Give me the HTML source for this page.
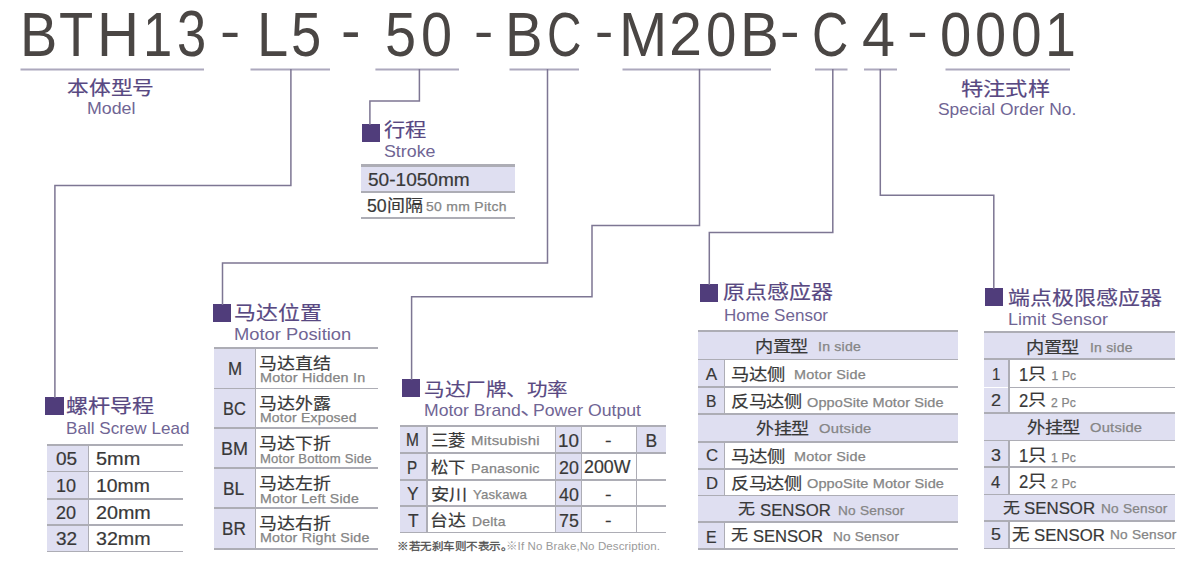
<!DOCTYPE html>
<html lang="zh-CN"><head><meta charset="utf-8"><style>
html,body{margin:0;padding:0;background:#fff;}
body{width:1200px;height:565px;position:relative;overflow:hidden;font-family:"Liberation Sans", sans-serif;}
.a{position:absolute;white-space:nowrap;line-height:1;transform-origin:0 0;}
.r{position:absolute;}
svg{position:absolute;left:0;top:0;}
svg path{fill:none;}
</style></head><body>
<div class="r" style="left:362.00px;top:124.00px;width:18.20px;height:18.00px;background:#503d7b"></div><div class="r" style="left:45.40px;top:397.00px;width:18.20px;height:18.00px;background:#503d7b"></div><div class="r" style="left:213.30px;top:304.00px;width:18.20px;height:18.00px;background:#503d7b"></div><div class="r" style="left:402.00px;top:379.00px;width:18.20px;height:18.00px;background:#503d7b"></div><div class="r" style="left:700.00px;top:284.00px;width:18.20px;height:18.00px;background:#503d7b"></div><div class="r" style="left:984.70px;top:288.00px;width:18.20px;height:18.00px;background:#503d7b"></div><div class="r" style="left:360.50px;top:166.50px;width:154.50px;height:24.00px;background:#dfdff1"></div><div class="r" style="left:360.50px;top:164.40px;width:154.50px;height:2.30px;background:#adadb5"></div><div class="r" style="left:360.50px;top:190.50px;width:154.50px;height:2.00px;background:#adadb5"></div><div class="r" style="left:360.50px;top:217.00px;width:154.50px;height:2.00px;background:#adadb5"></div><div class="r" style="left:47.40px;top:444.50px;width:40.90px;height:107.20px;background:#dfdff1"></div><div class="r" style="left:47.40px;top:443.50px;width:136.00px;height:2.20px;background:#adadb5"></div><div class="r" style="left:47.40px;top:470.60px;width:136.00px;height:1.60px;background:#adadb5"></div><div class="r" style="left:47.40px;top:498.00px;width:136.00px;height:1.60px;background:#adadb5"></div><div class="r" style="left:47.40px;top:524.40px;width:136.00px;height:1.60px;background:#adadb5"></div><div class="r" style="left:47.40px;top:550.70px;width:136.00px;height:1.60px;background:#adadb5"></div><div class="r" style="left:87.60px;top:444.50px;width:1.60px;height:107.20px;background:#adadb5"></div><div class="r" style="left:213.50px;top:348.00px;width:41.70px;height:201.00px;background:#dfdff1"></div><div class="r" style="left:213.50px;top:347.00px;width:164.00px;height:2.20px;background:#adadb5"></div><div class="r" style="left:213.50px;top:387.60px;width:164.00px;height:1.60px;background:#adadb5"></div><div class="r" style="left:213.50px;top:427.20px;width:164.00px;height:1.60px;background:#adadb5"></div><div class="r" style="left:213.50px;top:467.40px;width:164.00px;height:1.60px;background:#adadb5"></div><div class="r" style="left:213.50px;top:507.00px;width:164.00px;height:1.60px;background:#adadb5"></div><div class="r" style="left:213.50px;top:548.00px;width:164.00px;height:1.60px;background:#adadb5"></div><div class="r" style="left:254.60px;top:348.00px;width:1.60px;height:201.00px;background:#adadb5"></div><div class="r" style="left:400.00px;top:426.00px;width:26.70px;height:106.60px;background:#dfdff1"></div><div class="r" style="left:555.40px;top:426.00px;width:25.90px;height:106.60px;background:#dfdff1"></div><div class="r" style="left:636.30px;top:426.00px;width:29.70px;height:27.30px;background:#dfdff1"></div><div class="r" style="left:400.00px;top:425.00px;width:266.00px;height:2.20px;background:#adadb5"></div><div class="r" style="left:400.00px;top:452.30px;width:266.00px;height:1.60px;background:#adadb5"></div><div class="r" style="left:400.00px;top:479.10px;width:266.00px;height:1.60px;background:#adadb5"></div><div class="r" style="left:400.00px;top:505.30px;width:266.00px;height:1.60px;background:#adadb5"></div><div class="r" style="left:400.00px;top:531.60px;width:266.00px;height:1.60px;background:#adadb5"></div><div class="r" style="left:426.00px;top:426.00px;width:1.60px;height:106.60px;background:#adadb5"></div><div class="r" style="left:554.80px;top:426.00px;width:1.60px;height:106.60px;background:#adadb5"></div><div class="r" style="left:580.60px;top:426.00px;width:1.60px;height:106.60px;background:#adadb5"></div><div class="r" style="left:635.60px;top:426.00px;width:1.60px;height:106.60px;background:#adadb5"></div><div class="r" style="left:698.30px;top:330.60px;width:259.50px;height:28.90px;background:#dfdff1"></div><div class="r" style="left:698.30px;top:359.50px;width:25.50px;height:27.50px;background:#dfdff1"></div><div class="r" style="left:723.80px;top:359.50px;width:1.60px;height:27.50px;background:#adadb5"></div><div class="r" style="left:698.30px;top:387.00px;width:25.50px;height:26.80px;background:#dfdff1"></div><div class="r" style="left:723.80px;top:387.00px;width:1.60px;height:26.80px;background:#adadb5"></div><div class="r" style="left:698.30px;top:413.80px;width:259.50px;height:28.20px;background:#dfdff1"></div><div class="r" style="left:698.30px;top:442.00px;width:25.50px;height:26.80px;background:#dfdff1"></div><div class="r" style="left:723.80px;top:442.00px;width:1.60px;height:26.80px;background:#adadb5"></div><div class="r" style="left:698.30px;top:468.80px;width:25.50px;height:26.80px;background:#dfdff1"></div><div class="r" style="left:723.80px;top:468.80px;width:1.60px;height:26.80px;background:#adadb5"></div><div class="r" style="left:698.30px;top:495.60px;width:259.50px;height:26.70px;background:#dfdff1"></div><div class="r" style="left:698.30px;top:522.30px;width:25.50px;height:26.80px;background:#dfdff1"></div><div class="r" style="left:723.80px;top:522.30px;width:1.60px;height:26.80px;background:#adadb5"></div><div class="r" style="left:698.30px;top:329.60px;width:259.50px;height:2.20px;background:#adadb5"></div><div class="r" style="left:698.30px;top:358.50px;width:259.50px;height:1.80px;background:#adadb5"></div><div class="r" style="left:698.30px;top:386.00px;width:259.50px;height:1.80px;background:#adadb5"></div><div class="r" style="left:698.30px;top:412.80px;width:259.50px;height:1.80px;background:#adadb5"></div><div class="r" style="left:698.30px;top:441.00px;width:259.50px;height:1.80px;background:#adadb5"></div><div class="r" style="left:698.30px;top:467.80px;width:259.50px;height:1.80px;background:#adadb5"></div><div class="r" style="left:698.30px;top:494.60px;width:259.50px;height:1.80px;background:#adadb5"></div><div class="r" style="left:698.30px;top:521.30px;width:259.50px;height:1.80px;background:#adadb5"></div><div class="r" style="left:698.30px;top:548.10px;width:259.50px;height:1.80px;background:#adadb5"></div><div class="r" style="left:983.60px;top:331.60px;width:191.60px;height:27.70px;background:#dfdff1"></div><div class="r" style="left:983.60px;top:359.30px;width:24.80px;height:28.20px;background:#dfdff1"></div><div class="r" style="left:1008.40px;top:359.30px;width:1.60px;height:28.20px;background:#adadb5"></div><div class="r" style="left:983.60px;top:387.50px;width:24.80px;height:25.30px;background:#dfdff1"></div><div class="r" style="left:1008.40px;top:387.50px;width:1.60px;height:25.30px;background:#adadb5"></div><div class="r" style="left:983.60px;top:412.80px;width:191.60px;height:27.70px;background:#dfdff1"></div><div class="r" style="left:983.60px;top:440.50px;width:24.80px;height:26.70px;background:#dfdff1"></div><div class="r" style="left:1008.40px;top:440.50px;width:1.60px;height:26.70px;background:#adadb5"></div><div class="r" style="left:983.60px;top:467.20px;width:24.80px;height:27.30px;background:#dfdff1"></div><div class="r" style="left:1008.40px;top:467.20px;width:1.60px;height:27.30px;background:#adadb5"></div><div class="r" style="left:983.60px;top:494.50px;width:191.60px;height:26.30px;background:#dfdff1"></div><div class="r" style="left:983.60px;top:520.80px;width:24.80px;height:27.70px;background:#dfdff1"></div><div class="r" style="left:1008.40px;top:520.80px;width:1.60px;height:27.70px;background:#adadb5"></div><div class="r" style="left:983.60px;top:330.60px;width:191.60px;height:2.20px;background:#adadb5"></div><div class="r" style="left:983.60px;top:358.30px;width:191.60px;height:1.80px;background:#adadb5"></div><div class="r" style="left:1008.40px;top:386.50px;width:166.80px;height:1.80px;background:#adadb5"></div><div class="r" style="left:983.60px;top:411.80px;width:191.60px;height:1.80px;background:#adadb5"></div><div class="r" style="left:983.60px;top:439.50px;width:191.60px;height:1.80px;background:#adadb5"></div><div class="r" style="left:983.60px;top:466.20px;width:191.60px;height:1.80px;background:#adadb5"></div><div class="r" style="left:983.60px;top:493.50px;width:191.60px;height:1.80px;background:#adadb5"></div><div class="r" style="left:983.60px;top:519.80px;width:191.60px;height:1.80px;background:#adadb5"></div><div class="r" style="left:983.60px;top:547.50px;width:191.60px;height:1.80px;background:#adadb5"></div>
<svg width="1200" height="565" viewBox="0 0 1200 565"><path d="M20.5 69.5 H204" stroke="#aca8bd" stroke-width="2.2"/><path d="M250.5 69.5 H330" stroke="#aca8bd" stroke-width="2.2"/><path d="M375.4 69.5 H459" stroke="#aca8bd" stroke-width="2.2"/><path d="M509.5 69.5 H579" stroke="#aca8bd" stroke-width="2.2"/><path d="M622.5 69.5 H771" stroke="#aca8bd" stroke-width="2.2"/><path d="M815 69.5 H847.5" stroke="#aca8bd" stroke-width="2.2"/><path d="M864 69.5 H897" stroke="#aca8bd" stroke-width="2.2"/><path d="M945.5 69.5 H1070" stroke="#aca8bd" stroke-width="2.2"/><path d="M290.9 69 V185.6 H54.9 V398" stroke="#7d7693" stroke-width="1.5"/><path d="M419.4 69 V100.9 H369.9 V125" stroke="#7d7693" stroke-width="1.5"/><path d="M547.5 69 V262.9 H222.5 V305" stroke="#7d7693" stroke-width="1.5"/><path d="M699.5 69 V225.5 H592 V296.7 H411.6 V380" stroke="#7d7693" stroke-width="1.5"/><path d="M832.8 69 V232.5 H709.3 V285" stroke="#7d7693" stroke-width="1.5"/><path d="M880.3 69 V195.3 H993.8 V289" stroke="#7d7693" stroke-width="1.5"/></svg>
<div class="a" style="left:20.02px;top:3.12px;font-size:62px;color:#4a4644;font-weight:400;letter-spacing:0px;transform:scale(0.9015,1.0155);">B</div>
<div class="a" style="left:58.96px;top:3.12px;font-size:62px;color:#4a4644;font-weight:400;letter-spacing:0px;transform:scale(0.9029,1.0155);">T</div>
<div class="a" style="left:96.75px;top:3.27px;font-size:62px;color:#4a4644;font-weight:400;letter-spacing:0px;transform:scale(0.9382,1.0145);">H</div>
<div class="a" style="left:143.05px;top:3.12px;font-size:62px;color:#4a4644;font-weight:400;letter-spacing:0px;transform:scale(0.8481,1.0155);">1</div>
<div class="a" style="left:177.49px;top:1.93px;font-size:62px;color:#4a4644;font-weight:400;letter-spacing:0px;transform:scale(0.8467,1.0381);">3</div>
<div class="a" style="left:257.00px;top:3.27px;font-size:62px;color:#4a4644;font-weight:400;letter-spacing:0px;transform:scale(0.9042,1.0145);">L</div>
<div class="a" style="left:291.34px;top:3.81px;font-size:62px;color:#4a4644;font-weight:400;letter-spacing:0px;transform:scale(0.8767,1.0058);">5</div>
<div class="a" style="left:385.24px;top:3.28px;font-size:62px;color:#4a4644;font-weight:400;letter-spacing:0px;transform:scale(0.9003,1.0198);">5</div>
<div class="a" style="left:421.47px;top:3.28px;font-size:62px;color:#4a4644;font-weight:400;letter-spacing:0px;transform:scale(0.9016,1.0198);">0</div>
<div class="a" style="left:504.88px;top:3.12px;font-size:62px;color:#4a4644;font-weight:400;letter-spacing:0px;transform:scale(0.9091,1.0155);">B</div>
<div class="a" style="left:547.25px;top:3.81px;font-size:62px;color:#4a4644;font-weight:400;letter-spacing:0px;transform:scale(0.7692,1.0058);">C</div>
<div class="a" style="left:619.30px;top:3.27px;font-size:62px;color:#4a4644;font-weight:400;letter-spacing:0px;transform:scale(0.9343,1.0145);">M</div>
<div class="a" style="left:669.13px;top:3.71px;font-size:62px;color:#4a4644;font-weight:400;letter-spacing:0px;transform:scale(0.9577,0.9874);">2</div>
<div class="a" style="left:706.24px;top:3.81px;font-size:62px;color:#4a4644;font-weight:400;letter-spacing:0px;transform:scale(0.8801,1.0058);">0</div>
<div class="a" style="left:739.76px;top:3.27px;font-size:62px;color:#4a4644;font-weight:400;letter-spacing:0px;transform:scale(0.9399,1.0145);">B</div>
<div class="a" style="left:811.56px;top:3.81px;font-size:62px;color:#4a4644;font-weight:400;letter-spacing:0px;transform:scale(0.8103,1.0058);">C</div>
<div class="a" style="left:861.67px;top:3.12px;font-size:62px;color:#4a4644;font-weight:400;letter-spacing:0px;transform:scale(0.9581,1.0155);">4</div>
<div class="a" style="left:940.04px;top:3.81px;font-size:62px;color:#4a4644;font-weight:400;letter-spacing:0px;transform:scale(0.9071,1.0058);">0</div>
<div class="a" style="left:975.16px;top:3.81px;font-size:62px;color:#4a4644;font-weight:400;letter-spacing:0px;transform:scale(0.9037,1.0058);">0</div>
<div class="a" style="left:1010.78px;top:3.81px;font-size:62px;color:#4a4644;font-weight:400;letter-spacing:0px;transform:scale(0.8867,1.0058);">0</div>
<div class="a" style="left:1045.04px;top:3.12px;font-size:62px;color:#4a4644;font-weight:400;letter-spacing:0px;transform:scale(0.8963,1.0155);">1</div>
<div class="a" style="left:220.46px;top:3.13px;font-size:62px;color:#4a4644;font-weight:400;letter-spacing:0px;transform:scale(0.9800,0.8800);">-</div>
<div class="a" style="left:340.74px;top:-0.25px;font-size:62px;color:#4a4644;font-weight:400;letter-spacing:0px;transform:scale(0.9467,0.9680);">-</div>
<div class="a" style="left:474.20px;top:3.13px;font-size:62px;color:#4a4644;font-weight:400;letter-spacing:0px;transform:scale(0.9333,0.8800);">-</div>
<div class="a" style="left:594.67px;top:3.13px;font-size:62px;color:#4a4644;font-weight:400;letter-spacing:0px;transform:scale(0.8812,0.8800);">-</div>
<div class="a" style="left:780.13px;top:3.13px;font-size:62px;color:#4a4644;font-weight:400;letter-spacing:0px;transform:scale(0.9467,0.8800);">-</div>
<div class="a" style="left:906.76px;top:3.13px;font-size:62px;color:#4a4644;font-weight:400;letter-spacing:0px;transform:scale(1.0133,0.8800);">-</div>
<div class="a" style="left:66.96px;top:78.22px;font-size:21px;color:#584882;font-weight:400;letter-spacing:0px;-webkit-text-stroke:0.2px #584882;transform:scale(1.0366,0.9226);">本体型号</div>
<div class="a" style="left:86.95px;top:99.86px;font-size:17px;color:#706594;font-weight:400;letter-spacing:0px;transform:scale(1.0455,1.0000);">Model</div>
<div class="a" style="left:960.94px;top:78.67px;font-size:21px;color:#584882;font-weight:400;letter-spacing:0px;-webkit-text-stroke:0.2px #584882;transform:scale(1.0573,0.9410);">特注式样</div>
<div class="a" style="left:937.98px;top:100.61px;font-size:17px;color:#706594;font-weight:400;letter-spacing:0px;transform:scale(1.0233,1.0000);">Special Order No.</div>
<div class="a" style="left:384.22px;top:120.81px;font-size:21px;color:#584882;font-weight:400;letter-spacing:0px;-webkit-text-stroke:0.2px #584882;transform:scale(1.0128,0.9014);">行程</div>
<div class="a" style="left:383.95px;top:142.73px;font-size:17px;color:#706594;font-weight:400;letter-spacing:0px;transform:scale(1.0469,1.0000);">Stroke</div>
<div class="a" style="left:65.97px;top:396.00px;font-size:21px;color:#584882;font-weight:400;letter-spacing:0px;-webkit-text-stroke:0.2px #584882;transform:scale(1.0515,0.9359);">螺杆导程</div>
<div class="a" style="left:66.09px;top:420.21px;font-size:17px;color:#706594;font-weight:400;letter-spacing:0px;transform:scale(1.0050,1.0000);">Ball Screw Lead</div>
<div class="a" style="left:233.97px;top:303.09px;font-size:21px;color:#584882;font-weight:400;letter-spacing:0px;-webkit-text-stroke:0.2px #584882;transform:scale(1.0440,0.9291);">马达位置</div>
<div class="a" style="left:234.10px;top:325.98px;font-size:17px;color:#706594;font-weight:400;letter-spacing:0px;transform:scale(1.0793,1.0000);">Motor Position</div>
<div class="a" style="left:423.82px;top:379.69px;font-size:21px;color:#584882;font-weight:400;letter-spacing:0px;-webkit-text-stroke:0.2px #584882;transform:scale(0.9772,0.8697);">马达厂牌、功率</div>
<div class="a" style="left:424.35px;top:401.76px;font-size:17px;color:#706594;font-weight:400;letter-spacing:0px;transform:scale(1.0341,1.0000);">Motor Brand</div>
<div class="a" style="left:519.97px;top:399.00px;font-size:17px;color:#706594;font-weight:400;letter-spacing:0px;transform:scale(1.4017,1.1281);">、</div>
<div class="a" style="left:532.55px;top:401.96px;font-size:17px;color:#706594;font-weight:400;letter-spacing:0px;transform:scale(1.0388,1.0000);">Power Output</div>
<div class="a" style="left:723.37px;top:281.95px;font-size:21px;color:#584882;font-weight:400;letter-spacing:0px;-webkit-text-stroke:0.2px #584882;transform:scale(1.0437,0.9289);">原点感应器</div>
<div class="a" style="left:723.80px;top:307.28px;font-size:17px;color:#706594;font-weight:400;letter-spacing:0px;transform:scale(1.0010,1.0000);">Home Sensor</div>
<div class="a" style="left:1007.95px;top:288.47px;font-size:21px;color:#584882;font-weight:400;letter-spacing:0px;-webkit-text-stroke:0.2px #584882;transform:scale(1.0455,0.9305);">端点极限感应器</div>
<div class="a" style="left:1007.71px;top:310.81px;font-size:17px;color:#706594;font-weight:400;letter-spacing:0px;transform:scale(1.0570,1.0000);">Limit Sensor</div>
<div class="a" style="left:368.16px;top:170.76px;font-size:18px;color:#383838;font-weight:400;letter-spacing:0px;-webkit-text-stroke:0.2px #383838;transform:scale(1.0590,1.0000);">50-1050mm</div>
<div class="a" style="left:367.34px;top:197.04px;font-size:18.5px;color:#383838;font-weight:400;letter-spacing:0px;-webkit-text-stroke:0.2px #383838;transform:scale(0.9579,1.0000);">50</div>
<div class="a" style="left:387.21px;top:197.50px;font-size:18px;color:#383838;font-weight:400;letter-spacing:0px;-webkit-text-stroke:0.2px #383838;transform:scale(0.9970,0.8873);">间隔</div>
<div class="a" style="left:425.97px;top:199.97px;font-size:13.5px;color:#858585;font-weight:400;letter-spacing:0.3px;-webkit-text-stroke:0.25px #858585;transform:scale(1.0317,1.0000);">50 mm Pitch</div>
<div class="a" style="left:55.94px;top:449.66px;font-size:18px;color:#383838;font-weight:400;letter-spacing:0px;-webkit-text-stroke:0.2px #383838;transform:scale(1.0556,1.0000);">05</div>
<div class="a" style="left:96.32px;top:449.66px;font-size:18px;color:#383838;font-weight:400;letter-spacing:0px;-webkit-text-stroke:0.2px #383838;transform:scale(1.1053,1.0000);">5mm</div>
<div class="a" style="left:56.00px;top:477.16px;font-size:18px;color:#383838;font-weight:400;letter-spacing:0px;-webkit-text-stroke:0.2px #383838;">10</div>
<div class="a" style="left:96.43px;top:477.36px;font-size:18px;color:#383838;font-weight:400;letter-spacing:0px;-webkit-text-stroke:0.2px #383838;transform:scale(1.0772,1.0000);">10mm</div>
<div class="a" style="left:56.00px;top:503.96px;font-size:18px;color:#383838;font-weight:400;letter-spacing:0px;-webkit-text-stroke:0.2px #383838;">20</div>
<div class="a" style="left:96.32px;top:503.96px;font-size:18px;color:#383838;font-weight:400;letter-spacing:0px;-webkit-text-stroke:0.2px #383838;transform:scale(1.0958,1.0000);">20mm</div>
<div class="a" style="left:55.94px;top:530.11px;font-size:18px;color:#383838;font-weight:400;letter-spacing:0px;-webkit-text-stroke:0.2px #383838;transform:scale(1.0556,1.0000);">32</div>
<div class="a" style="left:95.92px;top:530.01px;font-size:18px;color:#383838;font-weight:400;letter-spacing:0px;-webkit-text-stroke:0.2px #383838;transform:scale(1.0918,1.0000);">32mm</div>
<div class="a" style="left:228.03px;top:360.94px;font-size:17.5px;color:#383838;font-weight:400;letter-spacing:0px;-webkit-text-stroke:0.2px #383838;transform:scale(0.9667,1.0000);">M</div>
<div class="a" style="left:259.15px;top:356.10px;font-size:17px;color:#383838;font-weight:400;letter-spacing:0px;-webkit-text-stroke:0.2px #383838;transform:scale(1.0545,0.9385);">马达直结</div>
<div class="a" style="left:259.69px;top:370.95px;font-size:13px;color:#858585;font-weight:400;letter-spacing:0.2px;-webkit-text-stroke:0.25px #858585;transform:scale(1.1043,1.0000);">Motor Hidden In</div>
<div class="a" style="left:223.06px;top:401.49px;font-size:17.5px;color:#383838;font-weight:400;letter-spacing:0px;-webkit-text-stroke:0.2px #383838;transform:scale(0.9405,1.0000);">BC</div>
<div class="a" style="left:259.15px;top:396.33px;font-size:17px;color:#383838;font-weight:400;letter-spacing:0px;-webkit-text-stroke:0.2px #383838;transform:scale(1.0545,0.9385);">马达外露</div>
<div class="a" style="left:259.52px;top:410.70px;font-size:13px;color:#858585;font-weight:400;letter-spacing:0.2px;-webkit-text-stroke:0.25px #858585;transform:scale(1.0751,1.0000);">Motor Exposed</div>
<div class="a" style="left:221.14px;top:441.29px;font-size:17.5px;color:#383838;font-weight:400;letter-spacing:0px;-webkit-text-stroke:0.2px #383838;transform:scale(1.0285,1.0000);">BM</div>
<div class="a" style="left:259.35px;top:435.63px;font-size:17px;color:#383838;font-weight:400;letter-spacing:0px;-webkit-text-stroke:0.2px #383838;transform:scale(1.0570,0.9407);">马达下折</div>
<div class="a" style="left:259.79px;top:452.00px;font-size:13px;color:#858585;font-weight:400;letter-spacing:0.2px;-webkit-text-stroke:0.25px #858585;transform:scale(1.0064,1.0000);">Motor Bottom Side</div>
<div class="a" style="left:222.90px;top:480.89px;font-size:17.5px;color:#383838;font-weight:400;letter-spacing:0px;-webkit-text-stroke:0.2px #383838;transform:scale(0.9925,1.0000);">BL</div>
<div class="a" style="left:259.35px;top:476.43px;font-size:17px;color:#383838;font-weight:400;letter-spacing:0px;-webkit-text-stroke:0.2px #383838;transform:scale(1.0570,0.9407);">马达左折</div>
<div class="a" style="left:259.71px;top:492.40px;font-size:13px;color:#858585;font-weight:400;letter-spacing:0.2px;-webkit-text-stroke:0.25px #858585;transform:scale(1.0854,1.0000);">Motor Left Side</div>
<div class="a" style="left:222.23px;top:520.94px;font-size:17.5px;color:#383838;font-weight:400;letter-spacing:0px;-webkit-text-stroke:0.2px #383838;transform:scale(0.9818,1.0000);">BR</div>
<div class="a" style="left:259.35px;top:515.78px;font-size:17px;color:#383838;font-weight:400;letter-spacing:0px;-webkit-text-stroke:0.2px #383838;transform:scale(1.0570,0.9407);">马达右折</div>
<div class="a" style="left:259.59px;top:531.20px;font-size:13px;color:#858585;font-weight:400;letter-spacing:0.2px;-webkit-text-stroke:0.25px #858585;transform:scale(1.0959,1.0000);">Motor Right Side</div>
<div class="a" style="left:405.83px;top:432.39px;font-size:17.5px;color:#383838;font-weight:400;letter-spacing:0px;-webkit-text-stroke:0.2px #383838;transform:scale(0.8867,1.0000);">M</div>
<div class="a" style="left:431.28px;top:433.30px;font-size:17px;color:#383838;font-weight:400;letter-spacing:0px;-webkit-text-stroke:0.2px #383838;transform:scale(1.0192,0.9071);">三菱</div>
<div class="a" style="left:471.21px;top:434.00px;font-size:13px;color:#858585;font-weight:400;letter-spacing:0.2px;-webkit-text-stroke:0.25px #858585;transform:scale(1.1518,1.0000);">Mitsubishi</div>
<div class="a" style="left:557.89px;top:432.84px;font-size:17.5px;color:#383838;font-weight:400;letter-spacing:0px;-webkit-text-stroke:0.2px #383838;transform:scale(1.0765,1.0000);">10</div>
<div class="a" style="left:605.11px;top:433.11px;font-size:16px;color:#383838;font-weight:400;letter-spacing:0px;-webkit-text-stroke:0.2px #383838;transform:scale(1.2250,1.0000);">-</div>
<div class="a" style="left:407.38px;top:459.89px;font-size:17.5px;color:#383838;font-weight:400;letter-spacing:0px;-webkit-text-stroke:0.2px #383838;transform:scale(0.8703,1.0000);">P</div>
<div class="a" style="left:431.28px;top:460.18px;font-size:17px;color:#383838;font-weight:400;letter-spacing:0px;-webkit-text-stroke:0.2px #383838;transform:scale(1.0192,0.9071);">松下</div>
<div class="a" style="left:471.28px;top:461.90px;font-size:13px;color:#858585;font-weight:400;letter-spacing:0.2px;-webkit-text-stroke:0.25px #858585;transform:scale(1.0984,1.0000);">Panasonic</div>
<div class="a" style="left:558.99px;top:460.44px;font-size:17.5px;color:#383838;font-weight:400;letter-spacing:0px;-webkit-text-stroke:0.2px #383838;transform:scale(1.0167,1.0000);">20</div>
<div class="a" style="left:584.49px;top:459.19px;font-size:17.5px;color:#383838;font-weight:400;letter-spacing:0px;-webkit-text-stroke:0.2px #383838;transform:scale(1.0179,1.0000);">200W</div>
<div class="a" style="left:406.81px;top:486.29px;font-size:17.5px;color:#383838;font-weight:400;letter-spacing:0px;-webkit-text-stroke:0.2px #383838;transform:scale(0.9900,1.0000);">Y</div>
<div class="a" style="left:431.13px;top:487.13px;font-size:17px;color:#383838;font-weight:400;letter-spacing:0px;-webkit-text-stroke:0.2px #383838;transform:scale(1.0742,0.9560);">安川</div>
<div class="a" style="left:472.70px;top:488.30px;font-size:13px;color:#858585;font-weight:400;letter-spacing:0.2px;-webkit-text-stroke:0.25px #858585;transform:scale(1.0152,1.0000);">Yaskawa</div>
<div class="a" style="left:558.99px;top:487.04px;font-size:17.5px;color:#383838;font-weight:400;letter-spacing:0px;-webkit-text-stroke:0.2px #383838;transform:scale(1.0167,1.0000);">40</div>
<div class="a" style="left:605.11px;top:487.31px;font-size:16px;color:#383838;font-weight:400;letter-spacing:0px;-webkit-text-stroke:0.2px #383838;transform:scale(1.2250,1.0000);">-</div>
<div class="a" style="left:407.60px;top:512.89px;font-size:17.5px;color:#383838;font-weight:400;letter-spacing:0px;-webkit-text-stroke:0.2px #383838;transform:scale(0.9934,1.0000);">T</div>
<div class="a" style="left:430.20px;top:512.98px;font-size:17px;color:#383838;font-weight:400;letter-spacing:0px;-webkit-text-stroke:0.2px #383838;transform:scale(1.0521,0.9363);">台达</div>
<div class="a" style="left:471.62px;top:514.90px;font-size:13px;color:#858585;font-weight:400;letter-spacing:0.2px;-webkit-text-stroke:0.25px #858585;transform:scale(1.0741,1.0000);">Delta</div>
<div class="a" style="left:558.99px;top:513.44px;font-size:17.5px;color:#383838;font-weight:400;letter-spacing:0px;-webkit-text-stroke:0.2px #383838;transform:scale(1.0167,1.0000);">75</div>
<div class="a" style="left:605.11px;top:512.71px;font-size:16px;color:#383838;font-weight:400;letter-spacing:0px;-webkit-text-stroke:0.2px #383838;transform:scale(1.2250,1.0000);">-</div>
<div class="a" style="left:645.40px;top:432.84px;font-size:17.5px;color:#383838;font-weight:400;letter-spacing:0px;-webkit-text-stroke:0.2px #383838;">B</div>
<div class="a" style="left:397.42px;top:542.22px;font-size:11px;color:#505050;font-weight:400;letter-spacing:0px;-webkit-text-stroke:0.3px #505050;transform:scale(1.0492,0.9338);">※若无刹车则不表示。</div>
<div class="a" style="left:505.69px;top:541.39px;font-size:11px;color:#9a9a9a;font-weight:400;letter-spacing:0.1px;transform:scale(1.0472,1.0000);">※If No Brake,No Description.</div>
<div class="a" style="left:754.73px;top:338.95px;font-size:17.5px;color:#383838;font-weight:400;letter-spacing:0px;-webkit-text-stroke:0.2px #383838;transform:scale(1.0408,0.9263);">内置型</div>
<div class="a" style="left:817.72px;top:340.25px;font-size:13px;color:#858585;font-weight:400;letter-spacing:0.2px;-webkit-text-stroke:0.25px #858585;transform:scale(1.0844,1.0000);">In side</div>
<div class="a" style="left:756.38px;top:421.14px;font-size:17.5px;color:#383838;font-weight:400;letter-spacing:0px;-webkit-text-stroke:0.2px #383838;transform:scale(1.0300,0.9167);">外挂型</div>
<div class="a" style="left:819.36px;top:421.90px;font-size:13px;color:#858585;font-weight:400;letter-spacing:0.2px;-webkit-text-stroke:0.25px #858585;transform:scale(1.1378,1.0000);">Outside</div>
<div class="a" style="left:738.00px;top:501.75px;font-size:17px;color:#383838;font-weight:400;letter-spacing:0px;-webkit-text-stroke:0.2px #383838;transform:scale(1.0000,0.8900);">无</div>
<div class="a" style="left:760.12px;top:502.31px;font-size:17px;color:#383838;font-weight:400;letter-spacing:0px;-webkit-text-stroke:0.2px #383838;transform:scale(0.9857,1.0000);">SENSOR</div>
<div class="a" style="left:837.98px;top:505.32px;font-size:12.5px;color:#858585;font-weight:400;letter-spacing:0.2px;-webkit-text-stroke:0.25px #858585;transform:scale(1.0934,1.0000);">No Sensor</div>
<div class="a" style="left:705.80px;top:366.06px;font-size:17px;color:#383838;font-weight:400;letter-spacing:0px;-webkit-text-stroke:0.2px #383838;">A</div>
<div class="a" style="left:706.08px;top:393.06px;font-size:17px;color:#383838;font-weight:400;letter-spacing:0px;-webkit-text-stroke:0.2px #383838;transform:scale(0.9200,1.0000);">B</div>
<div class="a" style="left:706.01px;top:447.06px;font-size:17px;color:#383838;font-weight:400;letter-spacing:0px;-webkit-text-stroke:0.2px #383838;transform:scale(0.9900,1.0000);">C</div>
<div class="a" style="left:706.02px;top:475.11px;font-size:17px;color:#383838;font-weight:400;letter-spacing:0px;-webkit-text-stroke:0.2px #383838;transform:scale(0.9801,1.0000);">D</div>
<div class="a" style="left:705.91px;top:528.66px;font-size:17px;color:#383838;font-weight:400;letter-spacing:0px;-webkit-text-stroke:0.2px #383838;transform:scale(0.9333,1.0000);">E</div>
<div class="a" style="left:730.87px;top:366.76px;font-size:17.5px;color:#383838;font-weight:400;letter-spacing:0px;-webkit-text-stroke:0.2px #383838;transform:scale(1.0490,0.9336);">马达侧</div>
<div class="a" style="left:793.89px;top:368.20px;font-size:13px;color:#858585;font-weight:400;letter-spacing:0.2px;-webkit-text-stroke:0.25px #858585;transform:scale(1.1080,1.0000);">Motor Side</div>
<div class="a" style="left:730.87px;top:448.70px;font-size:17.5px;color:#383838;font-weight:400;letter-spacing:0px;-webkit-text-stroke:0.2px #383838;transform:scale(1.0490,0.9336);">马达侧</div>
<div class="a" style="left:793.89px;top:450.10px;font-size:13px;color:#858585;font-weight:400;letter-spacing:0.2px;-webkit-text-stroke:0.25px #858585;transform:scale(1.1080,1.0000);">Motor Side</div>
<div class="a" style="left:730.88px;top:394.41px;font-size:17.5px;color:#383838;font-weight:400;letter-spacing:0px;-webkit-text-stroke:0.2px #383838;transform:scale(1.0395,0.9252);">反马达侧</div>
<div class="a" style="left:806.71px;top:395.75px;font-size:13px;color:#858585;font-weight:400;letter-spacing:0.1px;-webkit-text-stroke:0.25px #858585;transform:scale(1.1149,1.0000);">OppoSite Motor Side</div>
<div class="a" style="left:730.88px;top:475.83px;font-size:17.5px;color:#383838;font-weight:400;letter-spacing:0px;-webkit-text-stroke:0.2px #383838;transform:scale(1.0395,0.9252);">反马达侧</div>
<div class="a" style="left:807.31px;top:477.05px;font-size:13px;color:#858585;font-weight:400;letter-spacing:0.1px;-webkit-text-stroke:0.25px #858585;transform:scale(1.1182,1.0000);">OppoSite Motor Side</div>
<div class="a" style="left:731.40px;top:527.72px;font-size:17px;color:#383838;font-weight:400;letter-spacing:0px;-webkit-text-stroke:0.2px #383838;transform:scale(1.0000,0.8900);">无</div>
<div class="a" style="left:753.03px;top:527.96px;font-size:17px;color:#383838;font-weight:400;letter-spacing:0px;-webkit-text-stroke:0.2px #383838;transform:scale(0.9743,1.0000);">SENSOR</div>
<div class="a" style="left:832.96px;top:531.27px;font-size:12.5px;color:#858585;font-weight:400;letter-spacing:0.2px;-webkit-text-stroke:0.25px #858585;transform:scale(1.0867,1.0000);">No Sensor</div>
<div class="a" style="left:1026.14px;top:339.94px;font-size:17.5px;color:#383838;font-weight:400;letter-spacing:0px;-webkit-text-stroke:0.2px #383838;transform:scale(1.0409,0.9264);">内置型</div>
<div class="a" style="left:1089.90px;top:340.80px;font-size:13px;color:#858585;font-weight:400;letter-spacing:0.2px;-webkit-text-stroke:0.25px #858585;transform:scale(1.0740,1.0000);">In side</div>
<div class="a" style="left:1027.17px;top:420.00px;font-size:17.5px;color:#383838;font-weight:400;letter-spacing:0px;-webkit-text-stroke:0.2px #383838;transform:scale(1.0440,0.9292);">外挂型</div>
<div class="a" style="left:1089.87px;top:421.00px;font-size:13px;color:#858585;font-weight:400;letter-spacing:0.2px;-webkit-text-stroke:0.25px #858585;transform:scale(1.1311,1.0000);">Outside</div>
<div class="a" style="left:1003.23px;top:500.83px;font-size:17px;color:#383838;font-weight:400;letter-spacing:0px;-webkit-text-stroke:0.2px #383838;transform:scale(0.9946,0.8852);">无</div>
<div class="a" style="left:1024.01px;top:499.98px;font-size:17px;color:#383838;font-weight:400;letter-spacing:0px;-webkit-text-stroke:0.2px #383838;transform:scale(0.9908,1.0000);">SENSOR</div>
<div class="a" style="left:1100.68px;top:502.92px;font-size:12.5px;color:#858585;font-weight:400;letter-spacing:0.2px;-webkit-text-stroke:0.25px #858585;transform:scale(1.0942,1.0000);">No Sensor</div>
<div class="a" style="left:992.30px;top:366.21px;font-size:17px;color:#383838;font-weight:400;letter-spacing:0px;-webkit-text-stroke:0.2px #383838;transform:scale(0.8875,1.0000);">1</div>
<div class="a" style="left:990.73px;top:392.21px;font-size:17px;color:#383838;font-weight:400;letter-spacing:0px;-webkit-text-stroke:0.2px #383838;transform:scale(1.0662,1.0000);">2</div>
<div class="a" style="left:990.85px;top:447.01px;font-size:17px;color:#383838;font-weight:400;letter-spacing:0px;-webkit-text-stroke:0.2px #383838;transform:scale(1.0506,1.0000);">3</div>
<div class="a" style="left:991.01px;top:473.61px;font-size:17px;color:#383838;font-weight:400;letter-spacing:0px;-webkit-text-stroke:0.2px #383838;transform:scale(0.9832,1.0000);">4</div>
<div class="a" style="left:990.85px;top:525.91px;font-size:17px;color:#383838;font-weight:400;letter-spacing:0px;-webkit-text-stroke:0.2px #383838;transform:scale(1.0506,1.0000);">5</div>
<div class="a" style="left:1019.12px;top:366.89px;font-size:17.5px;color:#383838;font-weight:400;letter-spacing:0px;-webkit-text-stroke:0.2px #383838;transform:scale(0.9416,1.0000);">1</div>
<div class="a" style="left:1027.93px;top:365.70px;font-size:17px;color:#383838;font-weight:400;letter-spacing:0px;-webkit-text-stroke:0.2px #383838;transform:scale(1.0733,0.9553);">只</div>
<div class="a" style="left:1051.50px;top:369.74px;font-size:12px;color:#858585;font-weight:400;letter-spacing:0.2px;-webkit-text-stroke:0.25px #858585;">1 Pc</div>
<div class="a" style="left:1018.95px;top:392.99px;font-size:17.5px;color:#383838;font-weight:400;letter-spacing:0px;-webkit-text-stroke:0.2px #383838;transform:scale(0.9506,1.0000);">2</div>
<div class="a" style="left:1027.93px;top:392.09px;font-size:17px;color:#383838;font-weight:400;letter-spacing:0px;-webkit-text-stroke:0.2px #383838;transform:scale(1.0733,0.9553);">只</div>
<div class="a" style="left:1051.00px;top:396.59px;font-size:12px;color:#858585;font-weight:400;letter-spacing:0.2px;-webkit-text-stroke:0.25px #858585;transform:scale(1.0083,1.0000);">2 Pc</div>
<div class="a" style="left:1019.12px;top:448.29px;font-size:17.5px;color:#383838;font-weight:400;letter-spacing:0px;-webkit-text-stroke:0.2px #383838;transform:scale(0.9416,1.0000);">1</div>
<div class="a" style="left:1027.91px;top:446.52px;font-size:17px;color:#383838;font-weight:400;letter-spacing:0px;-webkit-text-stroke:0.2px #383838;transform:scale(1.0936,0.9733);">只</div>
<div class="a" style="left:1051.00px;top:452.39px;font-size:12px;color:#858585;font-weight:400;letter-spacing:0.2px;-webkit-text-stroke:0.25px #858585;transform:scale(1.0083,1.0000);">1 Pc</div>
<div class="a" style="left:1018.95px;top:474.49px;font-size:17.5px;color:#383838;font-weight:400;letter-spacing:0px;-webkit-text-stroke:0.2px #383838;transform:scale(0.9506,1.0000);">2</div>
<div class="a" style="left:1027.91px;top:473.06px;font-size:17px;color:#383838;font-weight:400;letter-spacing:0px;-webkit-text-stroke:0.2px #383838;transform:scale(1.0936,0.9733);">只</div>
<div class="a" style="left:1050.98px;top:477.89px;font-size:12px;color:#858585;font-weight:400;letter-spacing:0.2px;-webkit-text-stroke:0.25px #858585;transform:scale(1.0252,1.0000);">2 Pc</div>
<div class="a" style="left:1012.44px;top:526.81px;font-size:17px;color:#383838;font-weight:400;letter-spacing:0px;-webkit-text-stroke:0.2px #383838;transform:scale(1.0336,0.9199);">无</div>
<div class="a" style="left:1033.76px;top:526.51px;font-size:17px;color:#383838;font-weight:400;letter-spacing:0px;-webkit-text-stroke:0.2px #383838;transform:scale(0.9857,1.0000);">SENSOR</div>
<div class="a" style="left:1109.68px;top:529.17px;font-size:12.5px;color:#858585;font-weight:400;letter-spacing:0.2px;-webkit-text-stroke:0.25px #858585;transform:scale(1.0942,1.0000);">No Sensor</div>
</body></html>
